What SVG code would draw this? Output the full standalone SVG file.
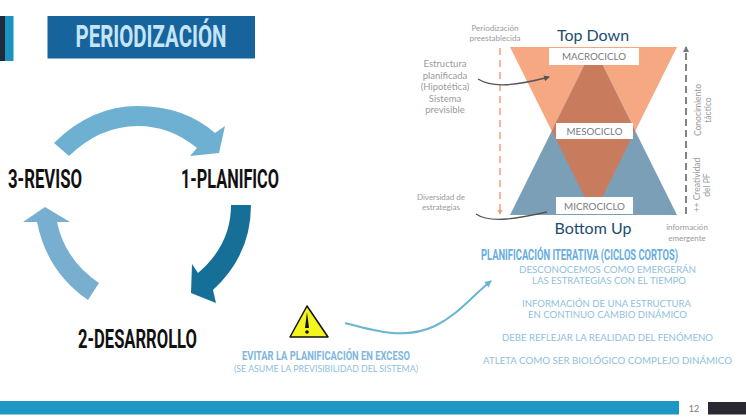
<svg xmlns="http://www.w3.org/2000/svg" width="746" height="420" viewBox="0 0 746 420">
<style>
.cond{font-family:"Liberation Sans Narrow","Roboto","Liberation Sans",sans-serif;font-weight:700}
.step{font-size:26px;fill:#111}
.lite{font-family:"Lato","Open Sans",sans-serif;font-weight:400}
.note{fill:#9a9a9a;text-anchor:middle}
.blue{fill:#8fc0e0;font-size:10px}
.box{fill:#fff}
.cyc{fill:#7a7a7a;font-size:10px;text-anchor:middle}
.head{font-family:"Lato","Open Sans",sans-serif;fill:#1c4c70;font-size:16px;text-anchor:middle}
</style>
<defs>
<marker id="ao" markerWidth="6" markerHeight="6" refX="4" refY="2.5" orient="auto" markerUnits="userSpaceOnUse"><path d="M0 0L5 2.5L0 5z" fill="#ef9f7a"/></marker>
<marker id="ag" markerWidth="7" markerHeight="7" refX="5" refY="3" orient="auto" markerUnits="userSpaceOnUse"><path d="M0 0L6 3L0 6z" fill="#777"/></marker>
<marker id="ad" markerWidth="7" markerHeight="7" refX="5" refY="3" orient="auto" markerUnits="userSpaceOnUse"><path d="M0 0L6 3L0 6z" fill="#555"/></marker>
<marker id="ab" markerWidth="8" markerHeight="8" refX="6" refY="3.5" orient="auto" markerUnits="userSpaceOnUse"><path d="M0 0L7 3.5L0 7z" fill="#68b5d2"/></marker>
</defs>

<g id="header">
<rect x="0" y="16" width="5" height="45" fill="#1f2a3c"/>
<rect x="5" y="16" width="8.500" height="45" fill="#1c93bf"/>
<rect x="47.500" y="16" width="207.500" height="42.500" fill="#17639b"/>
<text class="cond" x="75.500" y="47" font-size="32" fill="#c5e4f8" textLength="151" lengthAdjust="spacingAndGlyphs">PERIODIZACIÓN</text>
</g>

<g id="footer">
<rect x="0" y="401" width="679" height="13.500" fill="#1f97c4"/>
<text x="694" y="411.500" font-family="Lato,sans-serif" font-size="9" fill="#777" text-anchor="middle">12</text>
<rect x="708" y="402" width="38" height="12.500" fill="#2a2830"/>
</g>

<g id="cycle-arrows">
<path id="arrow-top" fill="#6eb0d2" d="M54 143Q91 106 138 106Q184 106 215 133L225 126L219 153L190 156L197 148Q170 126 138 126Q100 126 69 156Z"/>
<path id="arrow-right" fill="#156f96" d="M231 205H251Q251 255 213 290L216 303L191 293L192 264L198 273Q231 245 231 205Z"/>
<path id="arrow-left" fill="#78aecf" d="M99 283L88 300Q47 272 37 222H23L45 207L70 222H57Q65 260 99 283Z"/>
</g>

<g id="step-1"><text class="cond step" x="181" y="188" textLength="98" lengthAdjust="spacingAndGlyphs">1-PLANIFICO</text></g>
<g id="step-2"><text class="cond step" x="78" y="348" textLength="119" lengthAdjust="spacingAndGlyphs">2-DESARROLLO</text></g>
<g id="step-3"><text class="cond step" x="8" y="188" textLength="74" lengthAdjust="spacingAndGlyphs">3-REVISO</text></g>

<g id="warning">
<path d="M307 306L328 337H290Z" fill="#f4f41e" stroke="#111" stroke-width="1.500" stroke-linejoin="round"/>
<path d="M307 312L309 328H305Z" fill="#111"/>
<circle cx="307" cy="332" r="1.800" fill="#111"/>
<text class="cond" x="242" y="360" font-size="13.500" fill="#7fb6dd" textLength="168" lengthAdjust="spacingAndGlyphs">EVITAR LA PLANIFICACIÓN EN EXCESO</text>
<text class="lite blue" x="234" y="372" style="font-size:9px" textLength="184" lengthAdjust="spacingAndGlyphs">(SE ASUME LA PREVISIBILIDAD DEL SISTEMA)</text>
</g>

<g id="hourglass">
<path d="M510 47H677L593.500 215Z" fill="#f5a882"/>
<path d="M510 215H677L593.500 47Z" fill="#7c9fb8"/>
<path d="M593.500 47L635 131L593.500 215L552 131Z" fill="#c97c5d"/>
</g>
<g id="macrociclo"><rect class="box" x="549" y="48" width="90" height="17"/><text class="lite cyc" x="594" y="60" textLength="64" lengthAdjust="spacingAndGlyphs">MACROCICLO</text></g>
<g id="mesociclo"><rect class="box" x="556" y="123" width="77" height="16"/><text class="lite cyc" x="594.500" y="135" textLength="56" lengthAdjust="spacingAndGlyphs">MESOCICLO</text></g>
<g id="microciclo"><rect class="box" x="556" y="197" width="77" height="17"/><text class="lite cyc" x="594.500" y="209.500" textLength="61" lengthAdjust="spacingAndGlyphs">MICROCICLO</text></g>

<g id="connectors" fill="none">
<path d="M345 323C375 331 405 340 435 326C458 315 472 296 491 281" stroke="#68b5d2" stroke-width="2" marker-end="url(#ab)"/>
<path d="M500 48V214" stroke="#ef9f7a" stroke-width="1.500" stroke-dasharray="7 5" marker-end="url(#ao)"/>
<path d="M686 214V47" stroke="#777" stroke-width="1.800" stroke-dasharray="7 4" marker-end="url(#ag)"/>
<path d="M478 79C492 88 515 86 549 77" stroke="#555" stroke-width="1.300" marker-end="url(#ad)"/>
<path d="M476 214C490 224 520 218 547 212" stroke="#555" stroke-width="1.300"/>
</g>

<g id="hourglass-labels">
<text class="head" x="593" y="41">Top Down</text>
<text class="head" x="593" y="234">Bottom Up</text>
<g class="lite note" font-size="8">
<text x="495" y="31">Periodización</text>
<text x="495" y="41">preestablecida</text>
<text x="687" y="230">información</text>
<text x="687" y="241">emergente</text>
<text x="441" y="200">Diversidad de</text>
<text x="441" y="210">estrategias</text>
</g>
<g class="lite note" font-size="9.500">
<text x="445" y="67">Estructura</text>
<text x="445" y="79">planificada</text>
<text x="445" y="90">(Hipotética)</text>
<text x="445" y="102">Sistema</text>
<text x="445" y="113">previsible</text>
</g>
<g class="lite note" font-size="8.500">
<text transform="translate(701 110) rotate(-90)">Conocimiento</text>
<text transform="translate(711 110) rotate(-90)">táctico</text>
<text transform="translate(700 185) rotate(-90)">++ Creatividad</text>
<text transform="translate(710 185) rotate(-90)">del PF</text>
</g>
</g>

<g id="iterative">
<text class="cond" x="481" y="260" font-size="14" fill="#69ade0" textLength="197" lengthAdjust="spacingAndGlyphs">PLANIFICACIÓN ITERATIVA (CICLOS CORTOS)</text>
<g class="lite blue">
<text x="519" y="273" textLength="177" lengthAdjust="spacingAndGlyphs">DESCONOCEMOS COMO EMERGERÁN</text>
<text x="532" y="284" textLength="154" lengthAdjust="spacingAndGlyphs">LAS ESTRATEGIAS CON EL TIEMPO</text>
<text x="522" y="307" textLength="169" lengthAdjust="spacingAndGlyphs">INFORMACIÓN DE UNA ESTRUCTURA</text>
<text x="528" y="318" textLength="159" lengthAdjust="spacingAndGlyphs">EN CONTINUO CAMBIO DINÁMICO</text>
<text x="502" y="341" textLength="211" lengthAdjust="spacingAndGlyphs">DEBE REFLEJAR LA REALIDAD DEL FENÓMENO</text>
<text x="483" y="364" textLength="249" lengthAdjust="spacingAndGlyphs">ATLETA COMO SER BIOLÓGICO COMPLEJO DINÁMICO</text>
</g>
</g>
</svg>
